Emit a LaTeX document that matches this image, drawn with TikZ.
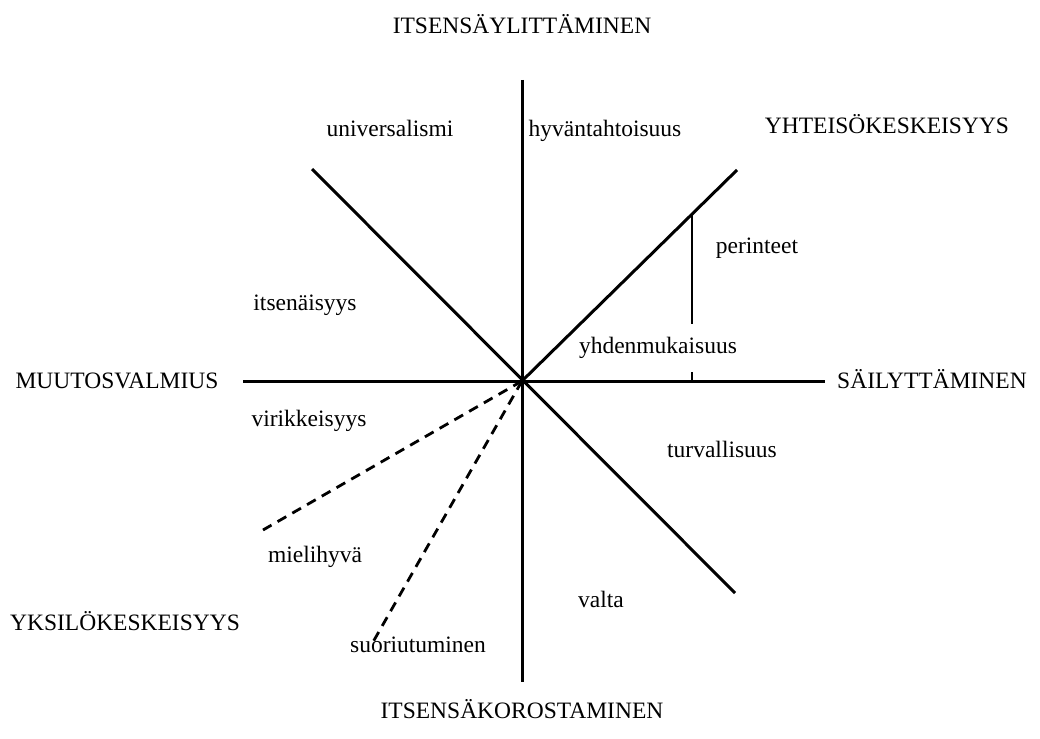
\documentclass[tikz,border=0pt]{standalone}
\usepackage{fontspec}
\setmainfont{Liberation Serif}
\usetikzlibrary{calc,positioning}

\begin{document}
\begin{tikzpicture}[x=1pt,y=-1pt,
  axis/.style={line width=3pt},
  split/.style={line width=2.8pt,dash pattern=on 10pt off 7pt},
  lbl/.style={anchor=base,inner sep=0pt,font=\fontsize{23.5}{28}\selectfont}]
  \useasboundingbox (0,0) rectangle (1040,738);
  \coordinate(O) at (522,381);
  \coordinate(T) at (522,80);
  \coordinate(B) at (522,682);
  \coordinate(L) at (243,381);
  \coordinate(R) at (825,381);
  \coordinate(UL) at (312,169);
  \coordinate(LR) at (735,593);
  \coordinate(UR) at (737,170);
  \coordinate(P) at ($(O)!0.79!(UR)$);
  \coordinate(Q) at ($(P)+(0,110)$);
  \coordinate(M) at (263,530);
  \coordinate(S) at (373,642);
  % axes
  \draw[axis](T)--(B);
  \draw[axis](L)--(R);
  \draw[axis](UL)--(LR);
  \draw[axis](O)--(UR);
  \draw[line width=2.6pt](P)--(Q);
  \draw[line width=2.6pt](692,372)--(692,381);
  \draw[split](O)--(M);
  \draw[split](O)--(S);
  % dimensions
  \node[lbl](up) at (522,34) {ITSENSÄYLITTÄMINEN};
  \node[lbl](down) at (522,718) {ITSENSÄKOROSTAMINEN};
  \node[lbl](left) at (117,388) {MUUTOSVALMIUS};
  \node[lbl](right) at (932,388) {SÄILYTTÄMINEN};
  \node[lbl](coll) at (887,134) {YHTEISÖKESKEISYYS};
  \node[lbl](indiv) at (125,630) {YKSILÖKESKEISYYS};
  % values
  \node[lbl](univ) at (390,137) {universalismi};
  \node[lbl](hyva) at (605,137) {hyväntahtoisuus};
  \node[lbl](peri) at (757,253) {perinteet};
  \node[lbl](itse) at (305,310) {itsenäisyys};
  \node[lbl](yhde) at (658,353) {yhdenmukaisuus};
  \node[lbl](viri) at (309,426) {virikkeisyys};
  \node[lbl](turv) at (722,457) {turvallisuus};
  \node[lbl](miel) at (315,562) {mielihyvä};
  \node[lbl](valt) at (601,607) {valta};
  \node[lbl](suor) at (418,652) {suoriutuminen};
\end{tikzpicture}
\end{document}
